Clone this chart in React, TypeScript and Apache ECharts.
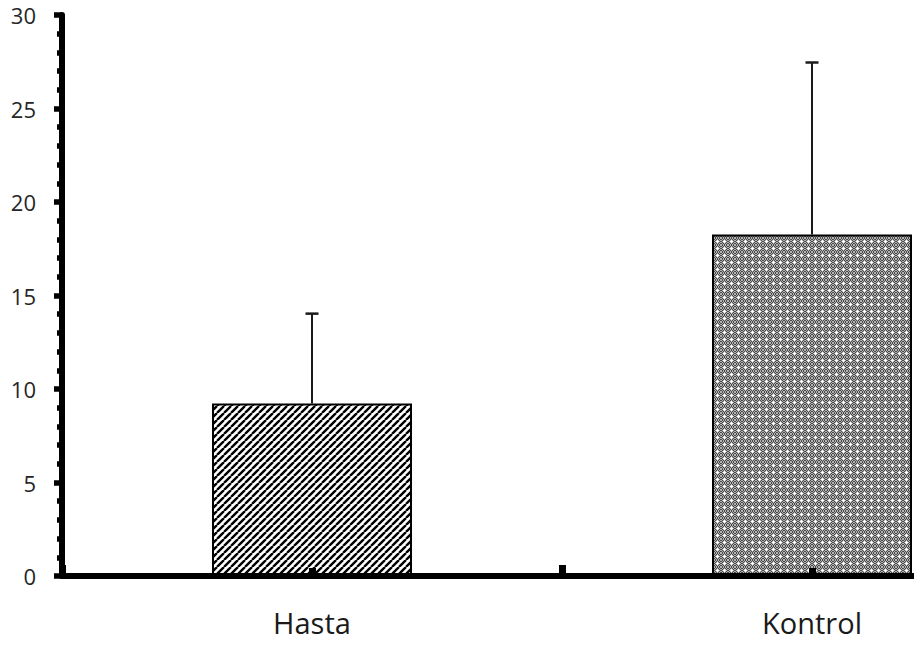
import React, { useEffect, useRef } from "react";
import * as echarts from "echarts";

const categories = ["Hasta", "Kontrol"];
const means = [9.22, 18.26];
const errors = [4.81, 9.2];
const yMin = 0;
const yMax = 30;
const yInterval = 5;

function hatchCanvas(): HTMLCanvasElement {
  const c = document.createElement("canvas");
  const s = 7;
  c.width = s;
  c.height = s;
  const g = c.getContext("2d")!;
  g.fillStyle = "#ffffff";
  g.fillRect(0, 0, s, s);
  g.strokeStyle = "#000000";
  g.lineWidth = 2.4;
  g.beginPath();
  for (const o of [-s, 0, s]) {
    g.moveTo(o, s);
    g.lineTo(o + s, 0);
  }
  g.stroke();
  return c;
}

function dotCanvas(): HTMLCanvasElement {
  const c = document.createElement("canvas");
  const s = 7;
  c.width = s;
  c.height = s;
  const g = c.getContext("2d")!;
  for (let x = 0; x < s; x++) {
    for (let y = 0; y < s; y++) {
      g.fillStyle = (x + y) % 2 ? "#4a4a4a" : "#b4b4b4";
      g.fillRect(x, y, 1, 1);
    }
  }
  g.fillStyle = "#ffffff";
  const cx = 3;
  const cy = 3;
  [[0, 0], [1, 0], [-1, 0], [0, 1], [0, -1]].forEach(([dx, dy]) =>
    g.fillRect(cx + dx, cy + dy, 1, 1)
  );
  return c;
}

export default function App() {
  const ref = useRef<HTMLDivElement>(null);
  useEffect(() => {
    document.body.style.margin = "0";
    document.body.style.overflow = "hidden";
    const chart = echarts.init(ref.current!, null, { renderer: "svg" });
    const patterns = [hatchCanvas(), dotCanvas()];
    const option: any = {
      animation: false,
      backgroundColor: "#ffffff",
      grid: { left: 62, right: 38, top: 15, bottom: 70, containLabel: false },
      xAxis: [
        {
          type: "category",
          data: categories,
          position: "bottom",
          z: 10,
          axisLine: { show: true, lineStyle: { color: "#000", width: 6 } },
          axisTick: { show: true, inside: true, length: 11, lineStyle: { color: "#000", width: 7 } },
          axisLabel: { fontSize: 29, margin: 32, color: "#1a1a1a", fontFamily: "Open Sans" },
          splitLine: { show: false },
        },
        {
          type: "category",
          data: categories,
          position: "bottom",
          z: 10,
          axisLine: { show: false },
          axisTick: { show: true, inside: true, alignWithLabel: true, length: 8, lineStyle: { color: "#000", width: 7 } },
          axisLabel: { show: false },
          splitLine: { show: false },
        },
      ],
      yAxis: {
        type: "value",
        min: yMin,
        max: yMax,
        interval: yInterval,
        z: 10,
        axisLine: { show: true, lineStyle: { color: "#000", width: 6 } },
        axisTick: { show: true, length: 8, lineStyle: { color: "#000", width: 5.5 } },
        minorTick: { show: true, splitNumber: 5, length: 5, lineStyle: { color: "#000", width: 5.5 } },
        splitLine: { show: false },
        minorSplitLine: { show: false },
        axisLabel: { fontSize: 22, margin: 26, color: "#262626", fontFamily: "Open Sans" },
      },
      series: [
        {
          type: "bar",
          xAxisIndex: 0,
          barWidth: 200,
          data: means.map((v, i) => ({
            value: v,
            itemStyle: {
              color: { image: patterns[i], repeat: "repeat" },
              borderColor: "#000",
              borderWidth: 2,
            },
          })),
        },
        {
          type: "custom",
          xAxisIndex: 0,
          z: 3,
          data: means.map((v, i) => [i, v, v + errors[i]]),
          renderItem: (params: any, api: any) => {
            const base = api.coord([api.value(0), api.value(1)]);
            const top = api.coord([api.value(0), api.value(2)]);
            const half = 6.5;
            return {
              type: "group",
              children: [
                {
                  type: "line",
                  shape: { x1: base[0], y1: base[1], x2: top[0], y2: top[1] },
                  style: { stroke: "#1a1a1a", lineWidth: 2 },
                },
                {
                  type: "line",
                  shape: { x1: top[0] - half, y1: top[1], x2: top[0] + half, y2: top[1] },
                  style: { stroke: "#1a1a1a", lineWidth: 2.5 },
                },
              ],
            };
          },
        },
      ],
    };
    chart.setOption(option);
    return () => chart.dispose();
  }, []);
  return (
    <div style={{ width: 914, height: 646, overflow: "hidden", position: "relative" }}>
      <div ref={ref} style={{ width: 1100, height: 646 }} />
    </div>
  );
}
